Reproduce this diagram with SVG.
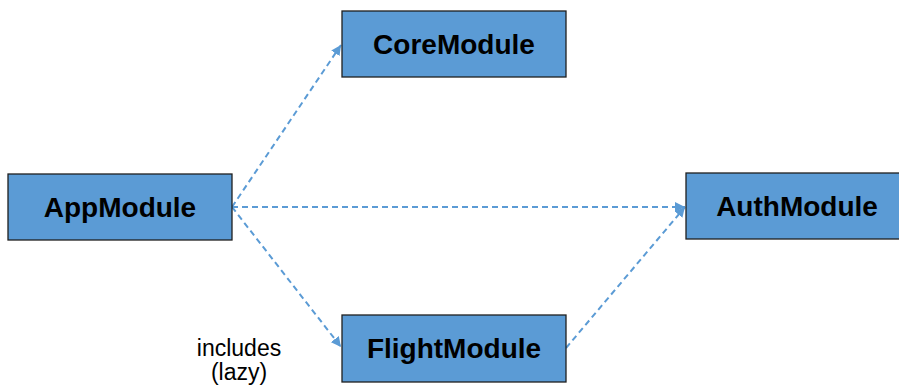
<svg xmlns="http://www.w3.org/2000/svg" width="899" height="389" viewBox="0 0 899 389">
<style>
.box{fill:#5B9BD5;stroke:#1f1f1f;stroke-width:1.3}
.lbl{font-family:"Liberation Sans",Arial,sans-serif;font-weight:bold;font-size:28px;fill:#000;text-anchor:middle}
.edge{fill:none;stroke:#5B9BD5;stroke-width:2;stroke-dasharray:6,4}
.note{font-family:"Liberation Sans",Arial,sans-serif;font-size:23px;fill:#000;text-anchor:middle}
</style>
<defs>
<marker id="ah" viewBox="0 0 10 10" refX="10" refY="5" markerWidth="5" markerHeight="5" orient="auto" markerUnits="strokeWidth">
<path d="M0,0 L10,5 L0,10 z" fill="#5B9BD5"/>
</marker>
</defs>
<g id="edges">
<line class="edge" x1="232" y1="207" x2="341" y2="45" marker-end="url(#ah)"/>
<line class="edge" x1="232" y1="207" x2="685" y2="207" marker-end="url(#ah)"/>
<line class="edge" x1="232" y1="207" x2="341" y2="347" marker-end="url(#ah)"/>
<line class="edge" x1="566" y1="348" x2="685" y2="207" marker-end="url(#ah)"/>
</g>
<g id="AppModule">
<rect class="box" x="8" y="174" width="224" height="66"/>
<text class="lbl" x="120" y="217">AppModule</text>
</g>
<g id="CoreModule">
<rect class="box" x="342" y="11" width="224" height="66"/>
<text class="lbl" x="454" y="54">CoreModule</text>
</g>
<g id="AuthModule">
<rect class="box" x="686" y="173" width="224" height="66"/>
<text class="lbl" x="797" y="216">AuthModule</text>
</g>
<g id="FlightModule">
<rect class="box" x="342" y="315" width="224" height="67"/>
<text class="lbl" x="454" y="358">FlightModule</text>
</g>
<g id="label">
<text class="note" x="239" y="356">includes</text>
<text class="note" x="239" y="380">(lazy)</text>
</g>
</svg>
